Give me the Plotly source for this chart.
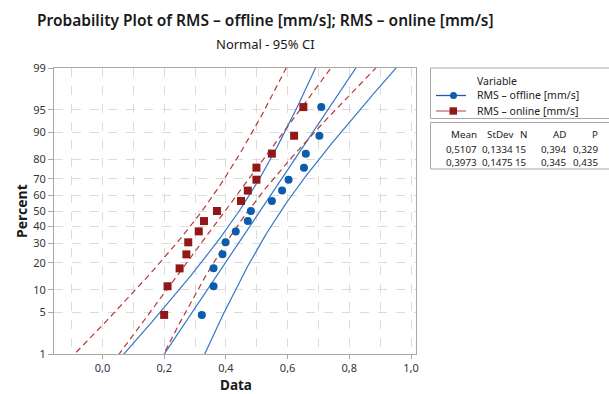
import plotly.graph_objects as go
from statistics import NormalDist

# ---------------- data ----------------
offline = [0.322, 0.360, 0.360, 0.389, 0.399, 0.432, 0.471, 0.481, 0.549,
           0.582, 0.603, 0.653, 0.659, 0.703, 0.709]
online = [0.200, 0.211, 0.250, 0.272, 0.278, 0.312, 0.329, 0.371, 0.449,
          0.471, 0.499, 0.499, 0.549, 0.621, 0.651]
stats_header = ["Mean", "StDev", "N", "AD", "P"]
stats_offline = ["0,5107", "0,1334", "15", "0,394", "0,329"]
stats_online = ["0,3973", "0,1475", "15", "0,345", "0,435"]
mean_off, sd_off = 0.5107, 0.1334
mean_on, sd_on = 0.3973, 0.1475
n_obs = 15
pct_ticks = [1, 5, 10, 20, 30, 40, 50, 60, 70, 80, 90, 95, 99]
x_ticks = [0.0, 0.2, 0.4, 0.6, 0.8, 1.0]
names = ["RMS – offline [mm/s]", "RMS – online [mm/s]"]

nd = NormalDist()
zc = nd.inv_cdf(0.975)


def plot_pos(n):
    return [nd.inv_cdf((i - 0.3) / (n + 0.4)) for i in range(1, n + 1)]


def fit_ci(mu, sd, n):
    zs = [-3 + 6 * k / 120 for k in range(121)]
    fit = [mu + sd * z for z in zs]
    lo = [mu + sd * z - zc * sd * (1 / n + z * z / (2 * n)) ** 0.5 for z in zs]
    hi = [mu + sd * z + zc * sd * (1 / n + z * z / (2 * n)) ** 0.5 for z in zs]
    return zs, fit, lo, hi


W, H = 609, 394
L, R, T, B = 54, 416, 68, 354


def px(x):
    return (x - L) / (R - L)


def py(y):
    return (B - y) / (B - T)


BLUE_LINE = "#3577c6"
BLUE_MK = "#0b5cad"
RED_LINE = "#b53a3a"
RED_MK = "#921818"
FONT = "Noto Sans, Open Sans, sans-serif"

fig = go.Figure()

# offline (blue)
zs, fit, lo, hi = fit_ci(mean_off, sd_off, n_obs)
for arr in (lo, fit, hi):
    fig.add_trace(go.Scatter(x=arr, y=zs, mode="lines",
                             line=dict(color=BLUE_LINE, width=1.2),
                             showlegend=False, hoverinfo="skip"))
# online (red dashed)
zs, fit, lo, hi = fit_ci(mean_on, sd_on, n_obs)
for arr in (lo, fit, hi):
    fig.add_trace(go.Scatter(x=arr, y=zs, mode="lines",
                             line=dict(color=RED_LINE, width=1.2, dash="6px,4px"),
                             showlegend=False, hoverinfo="skip"))

fig.add_trace(go.Scatter(x=sorted(offline), y=plot_pos(len(offline)), mode="markers",
                         name=names[0], showlegend=False,
                         marker=dict(symbol="circle", size=8, color=BLUE_MK)))
fig.add_trace(go.Scatter(x=sorted(online), y=plot_pos(len(online)), mode="markers",
                         name=names[1], showlegend=False,
                         marker=dict(symbol="square", size=8, color=RED_MK)))

zmax = nd.inv_cdf(0.99)
tick_font = dict(family=FONT, size=11, color="#333340")

fig.update_layout(
    width=W, height=H,
    margin=dict(l=L, r=W - R, t=T, b=H - B),
    paper_bgcolor="white", plot_bgcolor="white",
    separators=",.",
    showlegend=False,
    font=dict(family=FONT, color="#222"),
    xaxis=dict(range=[-0.157, 1.016], tickvals=x_ticks, tickformat=".1f",
               showgrid=True, gridcolor="#dcdcdc", griddash="dash", gridwidth=1,
               minor=dict(dtick=0.1, tick0=0, showgrid=True, gridcolor="#dcdcdc",
                          griddash="dash", ticks=""),
               showline=True, linecolor="#a8a8a8", linewidth=1, mirror=True,
               ticks="outside", ticklen=4, tickcolor="#a8a8a8",
               tickfont=tick_font, zeroline=False),
    yaxis=dict(range=[-zmax, zmax],
               tickvals=[nd.inv_cdf(p / 100) for p in pct_ticks],
               ticktext=[str(p) for p in pct_ticks],
               showgrid=True, gridcolor="#dcdcdc", griddash="dash", gridwidth=1,
               showline=True, linecolor="#a8a8a8", linewidth=1, mirror=True,
               ticks="outside", ticklen=5, tickcolor="#a8a8a8",
               tickfont=tick_font, zeroline=False),
)

ann = []
title_font = dict(family=FONT, size=15.5, color="#1a1a1a", weight=600)
ann.append(dict(text="Probability Plot of RMS – offline [mm/s]; RMS – online [mm/s]",
                x=px(265), y=py(20), xref="paper", yref="paper", showarrow=False,
                xanchor="center", yanchor="middle", font=title_font))
ann.append(dict(text="Normal - 95% CI", x=px(265), y=py(44), xref="paper", yref="paper",
                showarrow=False, xanchor="center", yanchor="middle",
                font=dict(family=FONT, size=13, color="#1a1a1a")))
ann.append(dict(text="<b>Data</b>", x=px(236), y=py(385), xref="paper", yref="paper",
                showarrow=False, xanchor="center", yanchor="middle",
                font=dict(family=FONT, size=13.5, color="#1a1a1a")))
ann.append(dict(text="<b>Percent</b>", x=px(21), y=py(211), xref="paper", yref="paper",
                showarrow=False, xanchor="center", yanchor="middle", textangle=-90,
                font=dict(family=FONT, size=14, color="#1a1a1a")))

leg_font = dict(family=FONT, size=10.5, color="#222")
ann.append(dict(text="Variable", x=px(475), y=py(80.5), xref="paper", yref="paper",
                showarrow=False, xanchor="left", yanchor="middle", font=leg_font))
ann.append(dict(text=names[0], x=px(475), y=py(95), xref="paper", yref="paper",
                showarrow=False, xanchor="left", yanchor="middle", font=leg_font))
ann.append(dict(text=names[1], x=px(475), y=py(111), xref="paper", yref="paper",
                showarrow=False, xanchor="left", yanchor="middle", font=leg_font))

stat_font = dict(family=FONT, size=9.8, color="#222")
col_right = [479, 515, 529, 568, 600]
for row, yv in ((stats_header, 134), (stats_offline, 149), (stats_online, 162.5)):
    for txt, xr in zip(row, col_right):
        ann.append(dict(text=txt, x=px(xr), y=py(yv), xref="paper", yref="paper",
                        showarrow=False, xanchor="right", yanchor="middle", font=stat_font))
fig.update_layout(annotations=ann)

shapes = []
box_line = dict(color="#a8a8a8", width=1)
shapes.append(dict(type="rect", xref="paper", yref="paper", x0=px(430.5), x1=px(615),
                   y0=py(118.5), y1=py(68), line=box_line))
shapes.append(dict(type="rect", xref="paper", yref="paper", x0=px(430.5), x1=px(615),
                   y0=py(169), y1=py(122.5), line=box_line))
# legend samples
shapes.append(dict(type="line", xref="paper", yref="paper", x0=px(436), x1=px(466),
                   y0=py(95.5), y1=py(95.5), line=dict(color="#1f5aa5", width=1.3)))
shapes.append(dict(type="circle", xref="paper", yref="paper", x0=px(450), x1=px(457),
                   y0=py(99), y1=py(92), fillcolor=BLUE_MK, line=dict(color=BLUE_MK, width=0)))
shapes.append(dict(type="line", xref="paper", yref="paper", x0=px(436), x1=px(466),
                   y0=py(111), y1=py(111), line=dict(color="#cc8080", width=1.5)))
shapes.append(dict(type="rect", xref="paper", yref="paper", x0=px(449.5), x1=px(457),
                   y0=py(114.7), y1=py(107.3), fillcolor=RED_MK, line=dict(color=RED_MK, width=0)))
fig.update_layout(shapes=shapes)

fig.write_html("out.html", config={"displayModeBar": False},
               post_script="document.body.style.margin='0';document.body.style.overflow='hidden';")
